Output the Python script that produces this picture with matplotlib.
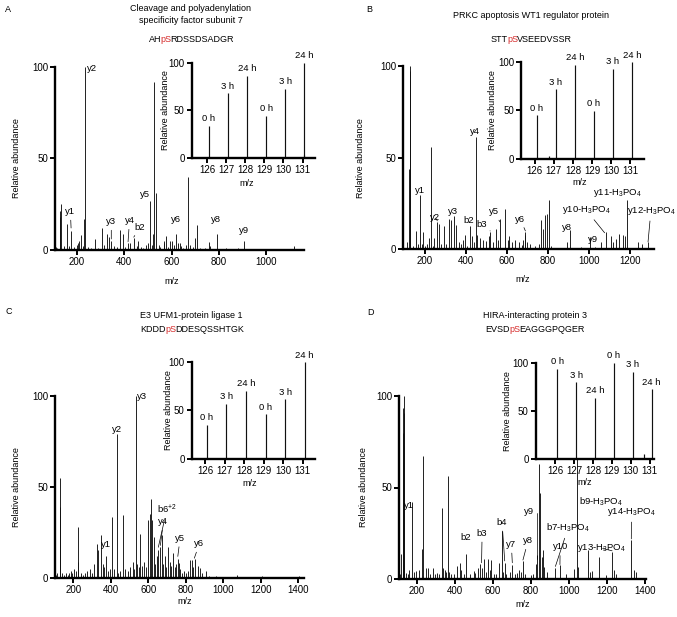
import matplotlib
matplotlib.use("Agg")
import matplotlib.pyplot as plt

plt.rcParams['font.family'] = ['Liberation Sans', 'DejaVu Sans']
plt.rcParams['font.size'] = 6.5
plt.rcParams['mathtext.default'] = 'regular'

# ---------------- data ----------------
reporter_mz = [126.1, 127.1, 128.1, 129.1, 130.1, 131.1]
reporter_labels_a = ['0 h', '3 h', '24 h', '0 h', '3 h', '24 h']
reporter_labels_d = ['0 h', '3 h', '24 h', '0 h', '3 h', '24 h']

# panel A
a_mz = [110, 116, 126.1, 127.1, 128.1, 129.1, 130.1, 131.1, 143, 159, 166, 175, 186, 198, 204,
        210, 217, 224, 231, 234, 245, 258, 276, 290, 304, 316, 325, 336, 345, 356, 368, 382,
        393, 404, 415, 425, 440, 452, 459, 470, 480, 491, 500, 509, 516, 522, 527, 535, 545,
        553, 566, 570, 575, 583, 592, 600, 610, 618, 627, 634, 640, 650, 660, 669, 676, 690,
        697, 707, 720, 740, 758, 763, 793, 830, 880, 908, 960, 1040, 1116]
a_int = [1.5, 1, 8.5, 17, 21.5, 11, 18, 25, 2, 14, 2, 10.5, 1.5, 3, 4,
         5, 8, 2, 17, 100, 1.5, 1, 6, 1, 12, 3, 9, 7, 5, 2, 1.5, 11,
         9, 1.5, 4, 4, 6.5, 2, 5, 1.5, 1, 2.5, 4, 27, 3, 9, 91.5, 31, 3,
         1.5, 4, 5, 7.5, 1.5, 5, 5, 3, 8.5, 4, 4, 2, 1, 3, 40, 3, 1.5,
         6.7, 13.6, 1, 1, 4.5, 2, 8.5, 1, 1, 5, 0.5, 0.8, 2]
a_rep = [34, 68, 86, 44, 73, 100]
a_rep_minor_mz = [126.8, 130.8, 131.05]
a_rep_minor = [1.2, 1, 3]

# panel B
b_mz = [115, 126.1, 127.1, 128.1, 129.1, 130.1, 131.1, 145, 159, 166, 177, 185, 192, 200, 210,
        221, 232.5, 240, 247, 262, 268, 280, 293, 305, 317, 330, 343, 352, 365, 378, 387, 395,
        405, 420, 432, 441, 449, 456, 470, 486, 500, 512, 519, 533, 546, 555, 566, 590, 603,
        611, 625, 640, 657, 672, 680, 688, 690, 700, 712, 735, 755, 767, 775, 784, 795, 805,
        815, 890, 907, 960, 1006, 1030, 1055, 1080, 1104, 1117, 1130, 1146, 1162, 1174, 1184,
        1236, 1255, 1286]
b_int = [4, 44, 70, 97, 48, 92, 100, 2, 10, 3, 29.5, 3, 9.5, 2, 3,
         6, 56, 2, 6, 15, 14, 3, 12.7, 3, 16.7, 15.8, 18, 13, 4, 3, 5, 8,
         2, 12.7, 7, 4, 61, 8, 6, 5, 4.5, 7, 9.5, 4, 11, 5, 16.7, 21.8, 5,
         7, 4, 5, 4, 2.5, 5, 8, 9.5, 4, 3, 2, 3, 15.8, 11.3, 18.5, 19.5, 27,
         2, 4, 10.4, 1, 6.7, 1, 4, 9.5, 7, 4, 5.8, 8.5, 7.6, 7, 27,
         4, 3, 4]
b_rep = [45, 72, 97, 49.5, 93, 100]
b_rep_minor_mz = [126.75]
b_rep_minor = [3]

# panel C
c_mz = [108, 115, 126.1, 127.1, 128.1, 129.1, 130.1, 131.1, 140, 152, 160, 170, 178, 186, 195,
        205, 214, 223, 227, 240, 252, 262, 275, 290, 300, 312, 324, 333, 348, 356, 364, 374,
        385, 397, 408, 415, 431, 440, 450, 463, 475, 490, 500, 516, 525, 532, 540, 548, 557,
        566, 575, 588, 600, 607, 614, 621, 628, 636, 644, 653, 664, 671, 678, 686, 695, 707,
        714, 722, 730, 740, 748, 756, 762, 770, 780, 790, 800, 810, 821, 832, 840, 850, 862,
        875, 885, 907, 925, 960, 990, 1075, 1120, 1208, 1250, 1300, 1404]
c_int = [2, 3, 19, 31, 39, 25, 34, 55, 3, 2, 3, 2, 3, 4, 3,
         5, 4, 9, 28, 3, 2, 3, 4, 5, 3, 8, 19, 15.5, 23.6, 8, 6, 12.4,
         4, 5, 33.6, 5, 79, 3, 4, 34.5, 5, 4, 6, 9, 5, 100, 8, 6, 24.5,
         7, 9, 6, 32, 35, 43.6, 32, 22.7, 8, 12, 15.5, 17, 23.6, 8, 12, 6, 17,
         9, 7, 13.6, 6, 8, 10.4, 8.5, 5, 3, 4, 3, 4, 10, 10, 6, 10.4, 6.7,
         5.5, 3, 4, 1.5, 1.5, 0.8, 2, 0.7, 1, 0.7, 0.7, 1]
c_rep = [35, 57, 70.6, 46, 61.6, 100]

# panel D
d_mz = [110, 118, 126.1, 127.1, 128.1, 129.1, 130.1, 131.1, 140, 150, 158, 175, 185, 195, 210,
        228, 233, 245, 258, 270, 284, 295, 305, 318, 332, 338, 345, 352, 361, 368, 380, 395,
        410, 425, 432, 445, 460, 480, 498, 505, 520, 530, 540, 553, 562, 574, 582, 590, 605,
        618, 632, 647, 655, 661, 670, 690, 702, 715, 728, 738, 748, 758, 770, 800, 812, 826,
        832, 842, 850, 856, 862, 870, 885, 929, 953, 985, 1026, 1043, 1050, 1100, 1112, 1120,
        1158, 1195, 1228, 1240, 1250, 1329, 1343, 1352]
d_int = [3, 13.6, 93.4, 79.7, 63.8, 100, 90.7, 72.4, 3.6, 3, 5, 42, 4, 4.5, 5,
         16.4, 67, 6, 6.4, 3, 6.4, 3, 3.5, 3, 39, 6, 5, 4, 56.4, 4, 3, 3,
         7, 9, 5, 3, 13.6, 3, 4.5, 3.5, 6.4, 8.5, 6, 11, 4, 11, 5, 10.4, 3,
         3, 9, 26.4, 4, 9, 3, 4, 8, 3, 3.5, 5, 4, 10, 3, 2.5, 3, 8.5,
         13, 63, 47, 12, 16, 6.7, 4, 6.4, 7.6, 3, 5.8, 80, 6.7, 15.8, 4, 4.5,
         12.2, 2.5, 15, 5, 3, 21.6, 5, 4]
d_rep = [93.4, 79.7, 63.8, 100, 90.7, 72.4]
d_rep_minor_mz = [130.7]
d_rep_minor = [5]

# fragment annotations: label, leader end (or None), text position, alignment, connection
a_ann = [('y1', (175, 12), (172, 21), 'center', None),
         ('y2', None, (242, 99), 'left', None),
         ('y3', (345, 6), (345, 15.5), 'center', None),
         ('y4', (416, 4.5), (422, 16), 'center', None),
         ('b2', (440, 7), (467, 12.5), 'center', None),
         ('y5', None, (487, 30.5), 'center', None),
         ('y6', None, (620, 16.7), 'center', None),
         ('y8', None, (789, 16.7), 'center', None),
         ('y9', None, (908, 10.5), 'center', None)]
b_ann = [('y1', None, (176, 32), 'center', None),
         ('y2', (262, 15.5), (252, 17.5), 'center', None),
         ('y3', None, (338, 20.5), 'center', None),
         ('b2', None, (414, 15.5), 'center', None),
         ('b3', (519, 10), (479, 13.8), 'center', None),
         ('y4', None, (446, 64), 'center', None),
         ('y5', (566, 15), (537, 20.5), 'center', None),
         ('y6', (690, 10), (665, 16.5), 'center', None),
         ('y8', None, (894, 12), 'center', None),
         ('y9', None, (1017, 5.5), 'center', None),
         ('y10-H$_3$PO$_4$', (1075, 9), (985, 21.5), 'center', None),
         ('y11-H$_3$PO$_4$', None, (1135, 30.5), 'center', None),
         ('y12-H$_3$PO$_4$', (1286, 4), (1300, 21), 'center', None)]
c_ann = [('y3', None, (540, 99.5), 'left', None),
         ('y2', None, (435, 81.5), 'center', None),
         ('y1', None, (374, 18.5), 'center', None),
         ('b6$^{+2}$', (653, 17), (698, 37.5), 'center', None),
         ('y4', (664, 18), (680, 31), 'center', None),
         ('y5', (757, 12), (769, 22), 'center', None),
         ('y6', (845, 11), (872, 19), 'center', None)]
d_ann = [('y1', None, (158, 40), 'center', None),
         ('b2', None, (455, 23), 'center', None),
         ('b3', (540, 9), (543, 25), 'center', None),
         ('b4', (662, 10), (648, 31), 'center', None),
         ('y7', (702, 9), (697, 19), 'center', None),
         ('y8', (758, 10.5), (785, 21), 'center', None),
         ('y9', (832, 11), (790, 37), 'center', 'angle,angleA=0,angleB=90,rad=0'),
         ('b7-H$_3$PO$_4$', (929, 7), (996, 28), 'center', None),
         ('y10', (953, 8), (954, 17.6), 'center', None),
         ('b9-H$_3$PO$_4$', None, (1052, 42), 'left', None),
         ('y13-H$_3$PO$_4$', (1228, 15.5), (1171, 17), 'center', None),
         ('y14-H$_3$PO$_4$', (1329, 22), (1330, 36.7), 'center', None)]

# ---------------- drawing ----------------
fig = plt.figure(figsize=(6.77, 6.17), dpi=100)
renderer = fig.canvas.get_renderer()
FS = 6.5


def px(l, t, r, b):
    return [l / 677, 1 - b / 617, (r - l) / 677, (b - t) / 617]


def style(ax):
    for s in ['top', 'right']:
        ax.spines[s].set_visible(False)
    for s in ['left', 'bottom']:
        ax.spines[s].set_linewidth(1.7)
    ax.tick_params(length=3.5, width=1.4, pad=1.5, labelsize=7)
    ax.set_ylim(0, 100)
    ax.set_yticks([0, 50, 100])


def main_spectrum(rect, mz, inten, xlim, xticks, ann, ylab_x, xlab_xy):
    ax = fig.add_axes(rect)
    ax.vlines(mz, 0, inten, color='#111111', lw=0.65)
    style(ax)
    ax.set_xlim(*xlim)
    ax.set_xticks(xticks)
    ax.set_ylabel('Relative abundance', fontsize=FS)
    ax.yaxis.set_label_coords(ylab_x, 0.5)
    ax.set_xlabel('m/z', fontsize=FS)
    ax.xaxis.set_label_coords(*xlab_xy)
    for lab, xy, xyt, ha, conn in ann:
        if xy is None:
            ax.text(xyt[0], xyt[1], lab, ha=ha, va='center', fontsize=FS + 0.3)
        else:
            ax.annotate(lab, xy=xy, xytext=xyt, ha=ha, va='center', fontsize=FS + 0.3,
                        arrowprops=dict(arrowstyle='-', lw=0.5, color='black',
                                        shrinkA=1, shrinkB=0,
                                        connectionstyle=conn or 'arc3'))
    return ax


def inset(rect, rep, labels, xlim, ylab_x, xlab_xy, minor_mz=(), minor=()):
    ax = fig.add_axes(rect, facecolor='white')
    ax.vlines(reporter_mz, 0, rep, color='#111111', lw=0.85)
    if len(minor_mz):
        ax.vlines(minor_mz, 0, minor, color='#111111', lw=0.85)
    style(ax)
    ax.set_xlim(*xlim)
    ax.set_xticks([126, 127, 128, 129, 130, 131])
    ax.set_ylabel('Relative abundance', fontsize=FS)
    ax.yaxis.set_label_coords(ylab_x, 0.5)
    ax.set_xlabel('m/z', fontsize=FS)
    ax.xaxis.set_label_coords(*xlab_xy)
    for x, y, lab in zip(reporter_mz, rep, labels):
        ax.annotate(lab, xy=(x, y), xytext=(0, 2), textcoords='offset points',
                    ha='center', va='bottom', fontsize=FS + 0.3)
    return ax


def title(cx, y, text, pep_parts, y_pep):
    fig.text(cx / 677, 1 - y / 617, text, ha='center', va='center', fontsize=FS,
             linespacing=1.55)
    colors = ['black', '#d62a2a', 'black']
    texts = [fig.text(0, 1 - y_pep / 617, p, ha='left', va='center', fontsize=FS, color=c)
             for p, c in zip(pep_parts, colors)]
    # trim a pixel of extent padding so the pieces read as one word
    widths = [t.get_window_extent(renderer).width - 0.9 for t in texts]
    x = cx - sum(widths) / 2
    for t, w in zip(texts, widths):
        t.set_x(x / 677)
        x += w


# Panel A
main_spectrum(px(55, 66.7, 304, 250), a_mz, a_int, (107, 1160), [200, 400, 600, 800, 1000],
              a_ann, -0.136, (0.47, -0.148))
inset(px(191.7, 62.7, 315, 158.3), a_rep, reporter_labels_a, (125.2, 131.65), -0.18,
      (0.446, -0.214), a_rep_minor_mz, a_rep_minor)
title(190.7, 14.5, 'Cleavage and polyadenylation\nspecificity factor subunit 7',
      ['AH', 'pS', 'RDSSDSADGR'], 39)
fig.text(5 / 677, 1 - 9 / 617, 'A', ha='left', va='center', fontsize=FS)

# Panel B
main_spectrum(px(403, 66, 654, 249.3), b_mz, b_int, (95, 1315), [200, 400, 600, 800, 1000, 1200],
              b_ann, -0.151, (0.478, -0.139))
inset(px(521.3, 62.3, 644, 158.7), b_rep, reporter_labels_a, (125.3, 131.72), -0.202,
      (0.476, -0.198), b_rep_minor_mz, b_rep_minor)
title(531, 15, 'PRKC apoptosis WT1 regulator protein', ['STT', 'pS', 'VSEEDVSSR'], 39)
fig.text(366.7 / 677, 1 - 10 / 617, 'B', ha='left', va='center', fontsize=FS)

# Panel C
main_spectrum(px(55, 395.7, 304, 578.3), c_mz, c_int, (102, 1430),
              [200, 400, 600, 800, 1000, 1200, 1400], c_ann, -0.136, (0.52, -0.104))
inset(px(191.7, 362.3, 315, 458.7), c_rep, reporter_labels_a, (125.32, 131.63), -0.153,
      (0.47, -0.209))
title(191.7, 315, 'E3 UFM1-protein ligase 1', ['KDDD', 'pS', 'DDESQSSHTGK'], 330)
fig.text(5 / 677, 1 - 311.7 / 617, 'C', ha='left', va='center', fontsize=FS)

# Panel D
main_spectrum(px(399, 395.7, 646.3, 579.3), d_mz, d_int, (105, 1408),
              [200, 400, 600, 800, 1000, 1200, 1400], d_ann, -0.127, (0.5, -0.115))
inset(px(535.7, 362.7, 654, 459.3), d_rep, reporter_labels_d, (124.96, 131.23), -0.202,
      (0.41, -0.196), d_rep_minor_mz, d_rep_minor)
title(534.7, 315, 'HIRA-interacting protein 3', ['EVSD', 'pS', 'EAGGGPQGER'], 330)
fig.text(367.3 / 677, 1 - 312.3 / 617, 'D', ha='left', va='center', fontsize=FS)

fig.savefig('out.png', dpi=100)
